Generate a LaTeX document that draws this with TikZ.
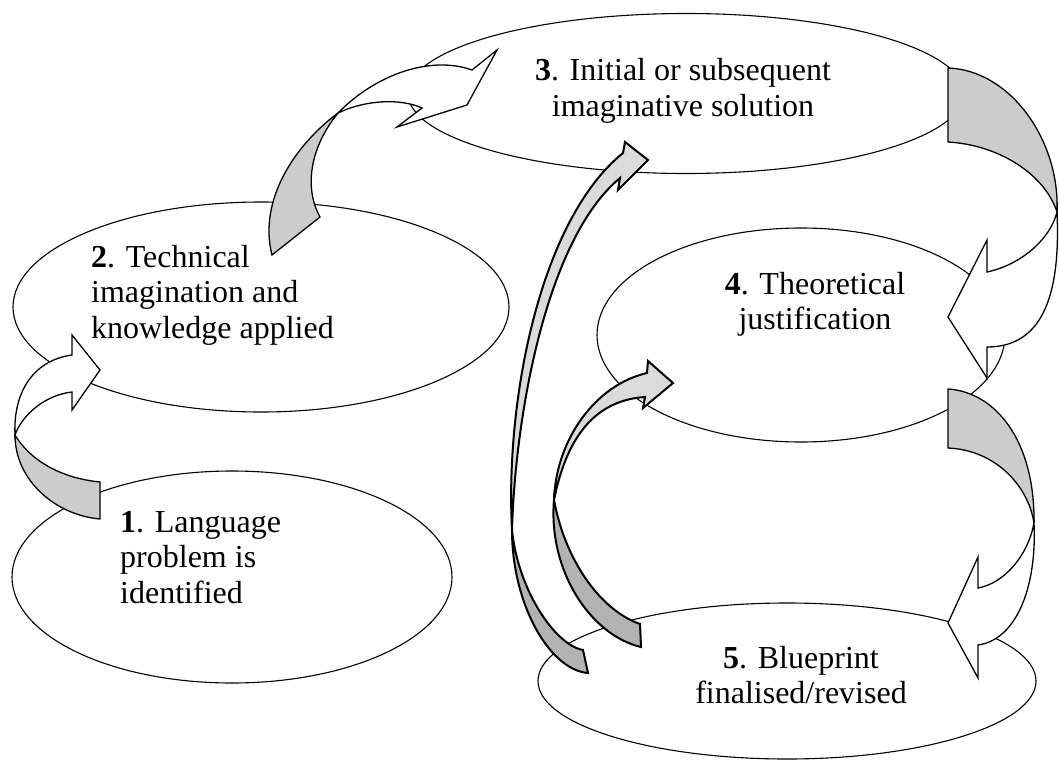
\documentclass[tikz,border=0pt]{standalone}
\usepackage{fontspec}
\setmainfont{Liberation Serif}
\usetikzlibrary{shapes.geometric}
\definecolor{facegray}{gray}{0.8}
\definecolor{lightface}{gray}{0.86}
\definecolor{darkface}{gray}{0.7}
\newcommand\mylines[2]{\begin{tabular}[t]{@{}#1@{}}#2\end{tabular}}
\begin{document}
\begin{tikzpicture}[x=1pt,y=-1pt,
  oval/.style={ellipse, draw, fill=white, line width=1.1pt, inner sep=0pt},
  lbl/.style={inner sep=0pt, font=\fontsize{32}{35.5}\selectfont},
  arrw/.style={draw, line width=1.3pt, fill=white},
  face/.style={draw, line width=1.3pt, fill=facegray},
  arrg/.style={draw, line width=2pt, fill=lightface},
  arrd/.style={draw, line width=2pt, fill=darkface}]
\useasboundingbox (0,0) rectangle (1059,760);
% ellipses
\node[oval, minimum width=440pt, minimum height=212pt] (e1) at (232,577) {};
\node[oval, minimum width=496pt, minimum height=210pt] (e2) at (261,307) {};
\node[oval, minimum width=556pt, minimum height=160pt] (e3) at (686,93.5) {};
\node[oval, minimum width=408pt, minimum height=214pt] (e4) at (801,335) {};
\node[oval, minimum width=498pt, minimum height=156pt] (e5) at (787,681) {};
% labels
\node[lbl, anchor=base west] (t1) at (120,532) {\mylines{l}{\textbf{1}. Language\\problem is\\identified}};
\node[lbl, anchor=base west] (t2) at (91,267) {\mylines{l}{\textbf{2}. Technical\\imagination and\\knowledge applied}};
\node[lbl, anchor=base] (t3) at (683,81) {\mylines{c}{\textbf{3}. Initial or subsequent\\imaginative solution}};
\node[lbl, anchor=base] (t4) at (815,294) {\mylines{c}{\textbf{4}. Theoretical\\justification}};
\node[lbl, anchor=base] (t5) at (801,668) {\mylines{c}{\textbf{5}. Blueprint\\finalised/revised}};
% arrow 1 -> 2
\path[face] (15,435) .. controls (30,460) and (60,478) .. (100,482) -- (100,519) .. controls (55,515) and (15,480) .. (15,435) -- cycle;
\path[arrw] (72,355) .. controls (35,360) and (13,390) .. (15,435) .. controls (22,415) and (45,395) .. (72,392) -- (72,410) -- (100,370) -- (72,335) -- cycle;
% arrow 2 -> 3
\path[face] (338,113) .. controls (295,145) and (258,200) .. (272,255) -- (320,217) .. controls (305,190) and (308,150) .. (338,113) -- cycle;
\path[arrw] (338,113) .. controls (375,75) and (430,55) .. (472,70) -- (497,50) -- (467,105) -- (397,127) -- (422,108) .. controls (400,98) and (365,100) .. (338,113) -- cycle;
% arrow 3 -> 4
\path[face] (948,68) .. controls (1010,70) and (1060,140) .. (1057,212) .. controls (1045,175) and (1000,145) .. (948,142) -- cycle;
\path[arrw] (1057,212) .. controls (1061,300) and (1040,347) .. (987,347) -- (987,378) -- (948,317) -- (987,240) -- (987,272) .. controls (1020,265) and (1050,240) .. (1057,212) -- cycle;
% arrow 4 -> 5
\path[face] (948,389) .. controls (995,392) and (1035,440) .. (1034,523) .. controls (1028,485) and (995,450) .. (948,448) -- cycle;
\path[arrw] (1034,523) .. controls (1037,590) and (1015,640) .. (978,645) -- (978,678) -- (948,623) -- (978,557) -- (978,588) .. controls (1005,583) and (1028,555) .. (1034,523) -- cycle;
% arrow 5 -> 4
\path[arrd] (554,500) .. controls (548,570) and (590,635) .. (641,647) -- (640,624) .. controls (600,610) and (565,560) .. (554,500) -- cycle;
\path[arrg] (554,500) .. controls (556,440) and (595,385) .. (647,373) -- (648,361) -- (673,383) -- (643,408) -- (645,397) .. controls (600,400) and (568,430) .. (554,500) -- cycle;
% arrow 5 -> 3
\path[arrd] (512,530) .. controls (512,605) and (550,670) .. (588,673) -- (583,650) .. controls (555,645) and (518,590) .. (512,530) -- cycle;
\path[arrg] (512,530) .. controls (505,400) and (540,220) .. (623,153) -- (625,142) -- (648,160) -- (618,190) -- (620,178) .. controls (545,240) and (515,420) .. (512,530) -- cycle;
\end{tikzpicture}
\end{document}
